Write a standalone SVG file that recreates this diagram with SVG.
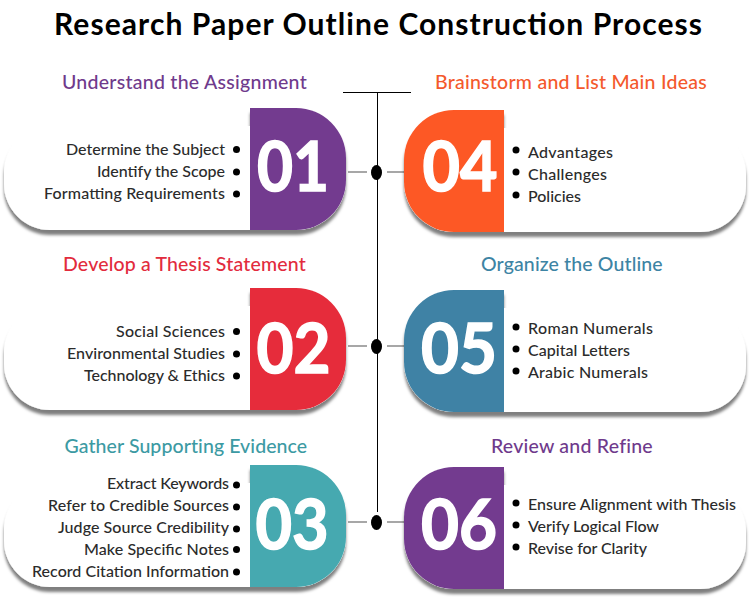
<svg xmlns="http://www.w3.org/2000/svg" width="750" height="600" viewBox="0 0 750 600">
<style>
text{font-family:"Lato","Liberation Sans",sans-serif}
.t{font-size:30px;font-weight:700;fill:#000}
.h{font-size:19.500px;font-weight:500;letter-spacing:.3px}
.i{font-size:16px;font-weight:500;fill:#2b2b2b}
.e{text-anchor:end}
.n{font-size:68px;font-weight:700;fill:#fff;stroke:#fff;stroke-width:1.500px;text-anchor:middle}
.card{fill:#fff;filter:url(#s)}
.ln{stroke:#000;stroke-width:1;fill:none}
.gr{stroke:#8a8a8a;stroke-width:1.300;fill:none}
</style>
<defs>
<filter id="s" x="-10%" y="-15%" width="120%" height="135%"><feDropShadow dx="0" dy="5" stdDeviation="1.800" flood-color="#000" flood-opacity=".5"/></filter>
</defs>
<rect width="750" height="600" fill="#fff"/>
<text class="t" x="378" y="35" text-anchor="middle" textLength="648">Research Paper Outline Construction Process</text>
<g id="connectors">
<path class="ln" d="M343 92.500H411M377.500 92.500V512"/>
<path class="gr" d="M348 172H367M387 172H404M348 346H367M387 346H404M348 522H367M387 522H404"/>
<ellipse cx="376.500" cy="172.500" rx="5.500" ry="7.500"/>
<ellipse cx="376.500" cy="346.500" rx="5.500" ry="7.500"/>
<ellipse cx="376.500" cy="522.500" rx="5.500" ry="7.500"/>
</g>
<g id="node-01">
<text class="h" x="184.500" y="89" text-anchor="middle" fill="#6f3a8c" textLength="245">Understand the Assignment</text>
<path class="card" d="M250 108H296A50 50 0 0 1 346 158V180A50 50 0 0 1 296 230H50A46 46 0 0 1 4 184V172A46 46 0 0 1 50 126H250Z"/>
<path fill="#733b8f" d="M250 108H296A50 50 0 0 1 346 158V180A50 50 0 0 1 296 230H250Z"/>
<text class="n" x="293" y="191" textLength="72" lengthAdjust="spacingAndGlyphs">01</text>
<text class="i e" x="225" y="155" textLength="159">Determine the Subject</text><circle cx="236.500" cy="149.500" r="3.500"/>
<text class="i e" x="225" y="177" textLength="128">Identify the Scope</text><circle cx="236.500" cy="172" r="3.500"/>
<text class="i e" x="225" y="199" textLength="181">Formatting Requirements</text><circle cx="236.500" cy="194" r="3.500"/>
</g>
<g id="node-02">
<text class="h" x="184.500" y="271" text-anchor="middle" fill="#e22b3d" textLength="243">Develop a Thesis Statement</text>
<path class="card" d="M250 288H296A50 50 0 0 1 346 338V360A50 50 0 0 1 296 410H50A46 46 0 0 1 4 364V352A46 46 0 0 1 50 306H250Z"/>
<path fill="#e62c3b" d="M250 288H296A50 50 0 0 1 346 338V360A50 50 0 0 1 296 410H250Z"/>
<text class="n" x="293.500" y="373" textLength="74" lengthAdjust="spacingAndGlyphs">02</text>
<text class="i e" x="225" y="337" textLength="109">Social Sciences</text><circle cx="236.500" cy="331.500" r="3.500"/>
<text class="i e" x="225" y="359" textLength="158">Environmental Studies</text><circle cx="236.500" cy="354" r="3.500"/>
<text class="i e" x="225" y="381" textLength="141">Technology &amp; Ethics</text><circle cx="236.500" cy="376" r="3.500"/>
</g>
<g id="node-03">
<text class="h" x="186" y="453" text-anchor="middle" fill="#3c9aa3" textLength="243">Gather Supporting Evidence</text>
<path class="card" d="M250 465H296A50 50 0 0 1 346 515V537A50 50 0 0 1 296 587H50A46 46 0 0 1 4 541V529A46 46 0 0 1 50 483H250Z"/>
<path fill="#46a9b0" d="M250 465H296A50 50 0 0 1 346 515V537A50 50 0 0 1 296 587H250Z"/>
<text class="n" x="292" y="549" textLength="73" lengthAdjust="spacingAndGlyphs">03</text>
<text class="i e" x="229" y="489" textLength="122">Extract Keywords</text><circle cx="236.500" cy="485" r="3.500"/>
<text class="i e" x="229" y="511" textLength="181">Refer to Credible Sources</text><circle cx="236.500" cy="507" r="3.500"/>
<text class="i e" x="229" y="533" textLength="171">Judge Source Credibility</text><circle cx="236.500" cy="529" r="3.500"/>
<text class="i e" x="229" y="555" textLength="145">Make Specific Notes</text><circle cx="236.500" cy="549.500" r="3.500"/>
<text class="i e" x="229" y="577" textLength="197">Record Citation Information</text><circle cx="236.500" cy="572" r="3.500"/>
</g>
<g id="node-04">
<text class="h" x="571" y="89" text-anchor="middle" fill="#f4592c" textLength="272">Brainstorm and List Main Ideas</text>
<path class="card" d="M504 110H454A50 50 0 0 0 404 160V182A50 50 0 0 0 454 232H700A46 46 0 0 0 746 186V174A46 46 0 0 0 700 128H504Z"/>
<path fill="#fd5825" d="M504 110H454A50 50 0 0 0 404 160V182A50 50 0 0 0 454 232H504Z"/>
<text class="n" x="460" y="191" textLength="75" lengthAdjust="spacingAndGlyphs">04</text>
<text class="i" x="528" y="158" textLength="85">Advantages</text><circle cx="516" cy="150" r="3.500"/>
<text class="i" x="528" y="180" textLength="79">Challenges</text><circle cx="516" cy="172" r="3.500"/>
<text class="i" x="528" y="202" textLength="53">Policies</text><circle cx="516" cy="195" r="3.500"/>
</g>
<g id="node-05">
<text class="h" x="572" y="271" text-anchor="middle" fill="#3d84a4" textLength="182">Organize the Outline</text>
<path class="card" d="M504 290H454A50 50 0 0 0 404 340V362A50 50 0 0 0 454 412H700A46 46 0 0 0 746 366V354A46 46 0 0 0 700 308H504Z"/>
<path fill="#3f82a5" d="M504 290H454A50 50 0 0 0 404 340V362A50 50 0 0 0 454 412H504Z"/>
<text class="n" x="459" y="373" textLength="76" lengthAdjust="spacingAndGlyphs">05</text>
<text class="i" x="528" y="334" textLength="125">Roman Numerals</text><circle cx="516" cy="327" r="3.500"/>
<text class="i" x="528" y="356" textLength="102">Capital Letters</text><circle cx="516" cy="349" r="3.500"/>
<text class="i" x="528" y="378" textLength="120">Arabic Numerals</text><circle cx="516" cy="371" r="3.500"/>
</g>
<g id="node-06">
<text class="h" x="572" y="453" text-anchor="middle" fill="#6f3a8c" textLength="162">Review and Refine</text>
<path class="card" d="M504 467H454A50 50 0 0 0 404 517V539A50 50 0 0 0 454 589H700A46 46 0 0 0 746 543V531A46 46 0 0 0 700 485H504Z"/>
<path fill="#733b8f" d="M504 467H454A50 50 0 0 0 404 517V539A50 50 0 0 0 454 589H504Z"/>
<text class="n" x="459" y="549" textLength="76" lengthAdjust="spacingAndGlyphs">06</text>
<text class="i" x="528" y="510" textLength="208">Ensure Alignment with Thesis</text><circle cx="516" cy="503" r="3.500"/>
<text class="i" x="528" y="532" textLength="131">Verify Logical Flow</text><circle cx="516" cy="525" r="3.500"/>
<text class="i" x="528" y="554" textLength="119">Revise for Clarity</text><circle cx="516" cy="547" r="3.500"/>
</g>
</svg>
